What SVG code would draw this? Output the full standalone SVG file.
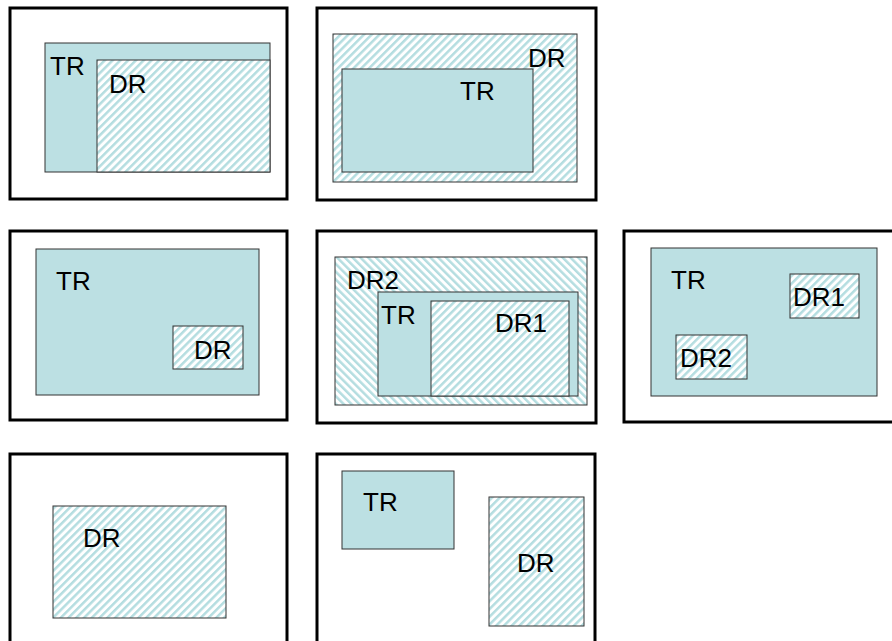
<svg xmlns="http://www.w3.org/2000/svg" width="892" height="641" viewBox="0 0 892 641">
  <style>
    .frame { fill: #ffffff; stroke: #000000; stroke-width: 3; }
    .tr { fill: #bce0e3; stroke: #333333; stroke-width: 1; }
    .dr { fill: url(#hatch); stroke: #333333; stroke-width: 1; }
    .dr-back { fill: url(#hatchBack); stroke: #333333; stroke-width: 1; }
    .lbl { font-family: "Liberation Sans", Arial, sans-serif; font-size: 26px; fill: #000000; }
  </style>
  <defs>
    <!-- forward diagonal stripes ( / ) -->
    <pattern id="hatch" patternUnits="userSpaceOnUse" width="5.5" height="10" patternTransform="rotate(45)">
      <rect x="0" y="0" width="5.5" height="10" fill="#ffffff"/>
      <rect x="0" y="0" width="2.5" height="10" fill="#b4dde0"/>
    </pattern>
    <!-- backward diagonal stripes ( \ ) -->
    <pattern id="hatchBack" patternUnits="userSpaceOnUse" width="5.5" height="10" patternTransform="rotate(-45)">
      <rect x="0" y="0" width="5.5" height="10" fill="#ffffff"/>
      <rect x="0" y="0" width="2.5" height="10" fill="#b4dde0"/>
    </pattern>
  </defs>

  <!-- Case 1: DR inside TR, sharing right and bottom edges -->
  <g id="case1">
    <rect class="frame" x="10" y="8" width="277" height="191"/>
    <rect class="tr" x="45" y="43" width="225" height="129"/>
    <rect class="dr" x="97" y="60" width="173" height="112"/>
    <text class="lbl" x="50" y="75">TR</text>
    <text class="lbl" x="109" y="93">DR</text>
  </g>

  <!-- Case 2: TR inside DR -->
  <g id="case2">
    <rect class="frame" x="317" y="8" width="279" height="192"/>
    <rect class="dr" x="333" y="34" width="244" height="148"/>
    <rect class="tr" x="342" y="69" width="191" height="103"/>
    <text class="lbl" x="528" y="67">DR</text>
    <text class="lbl" x="460" y="100">TR</text>
  </g>

  <!-- Case 3: small DR inside TR -->
  <g id="case3">
    <rect class="frame" x="10" y="231" width="277" height="189"/>
    <rect class="tr" x="36" y="249" width="223" height="146"/>
    <rect class="dr" x="173" y="326" width="70" height="43"/>
    <text class="lbl" x="56" y="290">TR</text>
    <text class="lbl" x="194" y="359">DR</text>
  </g>

  <!-- Case 4: DR1 inside TR inside DR2 -->
  <g id="case4">
    <rect class="frame" x="317" y="231" width="279" height="192"/>
    <rect class="dr-back" x="335" y="257" width="252" height="148"/>
    <rect class="tr" x="378" y="292" width="200" height="104"/>
    <rect class="dr" x="431" y="301" width="138" height="95"/>
    <text class="lbl" x="347" y="289">DR2</text>
    <text class="lbl" x="381" y="324">TR</text>
    <text class="lbl" x="495" y="332">DR1</text>
  </g>

  <!-- Case 5: two separate DRs inside TR -->
  <g id="case5">
    <rect class="frame" x="624" y="231" width="280" height="191"/>
    <rect class="tr" x="651" y="248" width="226" height="148"/>
    <rect class="dr" x="790" y="274" width="69" height="44"/>
    <rect class="dr" x="676" y="335" width="71" height="44"/>
    <text class="lbl" x="671" y="289">TR</text>
    <text class="lbl" x="793" y="306">DR1</text>
    <text class="lbl" x="680" y="367">DR2</text>
  </g>

  <!-- Case 6: DR only -->
  <g id="case6">
    <rect class="frame" x="10" y="454" width="277" height="200"/>
    <rect class="dr" x="53" y="506" width="173" height="112"/>
    <text class="lbl" x="83" y="547">DR</text>
  </g>

  <!-- Case 7: TR and DR disjoint -->
  <g id="case7">
    <rect class="frame" x="317" y="454" width="278" height="200"/>
    <rect class="tr" x="342" y="471" width="112" height="78"/>
    <rect class="dr" x="489" y="497" width="95" height="129"/>
    <text class="lbl" x="363" y="511">TR</text>
    <text class="lbl" x="517" y="572">DR</text>
  </g>

  <g id="connectors"/>
</svg>
